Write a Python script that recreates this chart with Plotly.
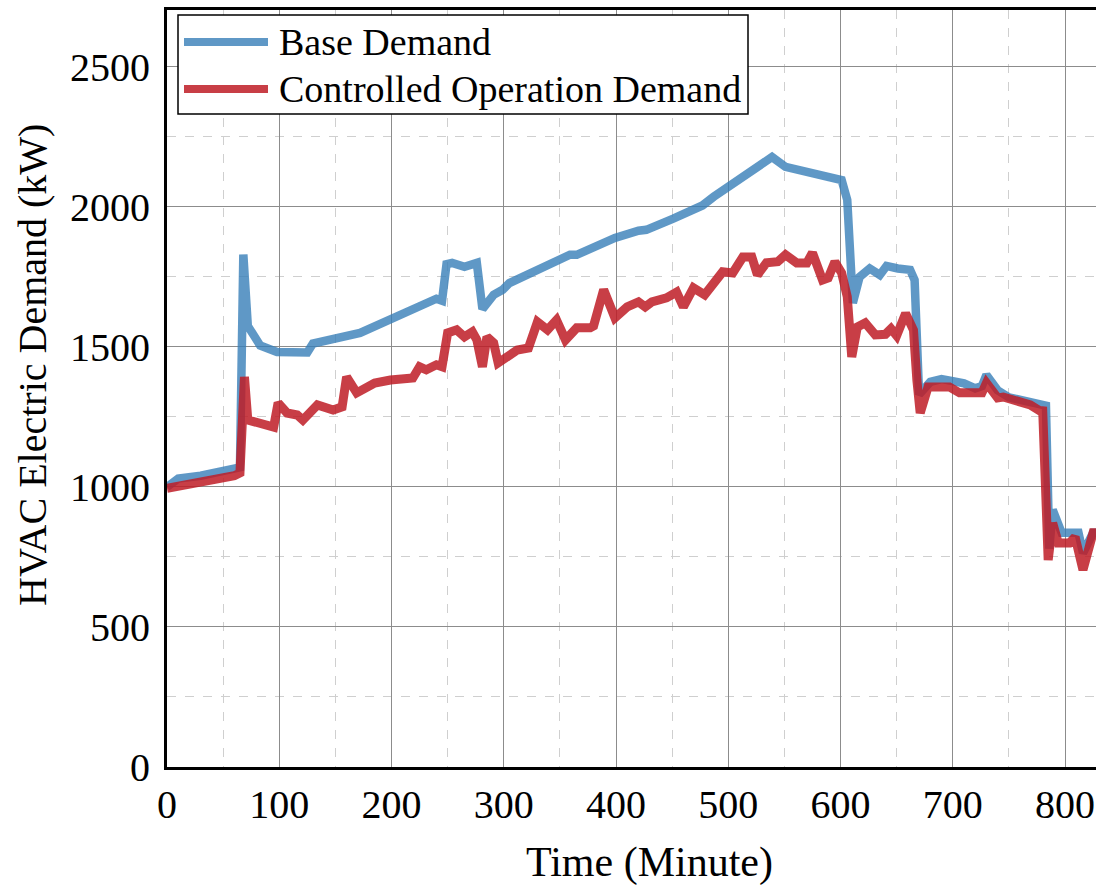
import plotly.graph_objects as go

# Time axis (minutes) and HVAC demand (kW) for the two operating modes
base_time = [0, 10, 30, 50, 65, 68, 72, 83, 98, 125, 130, 172, 187, 240, 245,
             249, 254, 265, 276, 281, 291, 299, 305, 359, 365, 399, 420, 427, 451, 477,
             487, 508, 539, 551, 573, 591, 601, 606, 611, 617, 626, 635, 641, 651, 662,
             666, 670, 680, 690, 700, 710, 720, 726, 730, 740, 750, 770, 780, 783, 786,
             789, 797, 812, 816, 825, 830]
base_demand = [1000, 1030, 1040, 1055, 1070, 1830, 1575, 1505, 1482, 1480, 1512, 1550, 1578, 1672, 1665,
               1795, 1800, 1786, 1800, 1635, 1686, 1704, 1728, 1829, 1829, 1889, 1915, 1918, 1958, 2005,
               2036, 2096, 2178, 2143, 2125, 2104, 2096, 2025, 1657, 1750, 1780, 1757, 1789, 1780, 1775,
               1739, 1330, 1375, 1385, 1378, 1370, 1352, 1360, 1400, 1345, 1320, 1300, 1290, 1290, 780,
               918, 836, 836, 764, 836, 836]

ctrl_time = [0, 30, 60, 65, 69, 72, 80, 95, 99, 107, 116, 121, 134, 148, 156,
             160, 169, 185, 199, 214, 219, 225, 231, 240, 245, 250, 258, 265, 272, 276,
             281, 285, 291, 295, 303, 312, 322, 330, 339, 347, 355, 365, 377, 380, 389,
             399, 410, 420, 426, 432, 445, 454, 460, 469, 479, 487, 495, 504, 513, 521,
             526, 534, 544, 551, 561, 570, 575, 584, 589, 595, 601, 606, 610, 615, 622,
             631, 640, 645, 650, 658, 665, 668, 671, 678, 697, 706, 718, 726, 730, 740,
             745, 769, 779, 780, 785, 789, 794, 804, 809, 816, 825, 830]
ctrl_demand = [995, 1015, 1040, 1050, 1393, 1239, 1232, 1214, 1300, 1264, 1257, 1239, 1293, 1275, 1286,
               1393, 1336, 1371, 1382, 1393, 1389, 1429, 1418, 1436, 1429, 1550, 1561, 1536, 1554, 1525,
               1429, 1536, 1514, 1443, 1464, 1489, 1496, 1589, 1561, 1596, 1525, 1568, 1568, 1575, 1704,
               1604, 1643, 1661, 1643, 1661, 1675, 1696, 1643, 1711, 1686, 1729, 1768, 1764, 1821, 1821,
               1757, 1800, 1804, 1829, 1800, 1800, 1836, 1739, 1746, 1804, 1764, 1679, 1464, 1571, 1586,
               1543, 1545, 1565, 1540, 1620, 1560, 1382, 1264, 1357, 1357, 1336, 1339, 1336, 1371, 1318,
               1321, 1293, 1268, 1286, 739, 871, 800, 800, 821, 704, 836, 836]

assert len(base_time) == len(base_demand)
assert len(ctrl_time) == len(ctrl_demand)

series_names = ["Base Demand", "Controlled Operation Demand"]
x_ticks = [0, 100, 200, 300, 400, 500, 600, 700, 800]
y_ticks = [0, 500, 1000, 1500, 2000, 2500]

BLUE = "rgba(55,126,184,0.8)"
RED = "rgba(190,28,38,0.85)"
FONT = "Liberation Serif, Times New Roman, serif"

fig = go.Figure()
fig.add_trace(go.Scatter(x=base_time, y=base_demand, mode="lines", name=series_names[0],
                         line=dict(color=BLUE, width=8.5), showlegend=False))
fig.add_trace(go.Scatter(x=ctrl_time, y=ctrl_demand, mode="lines", name=series_names[1],
                         line=dict(color=RED, width=9), showlegend=False))

axis_common = dict(
    showline=True, linecolor="black", linewidth=3,
    showgrid=True, gridcolor="#8c8c8c", gridwidth=1.2,
    zeroline=False, ticks="",
    tickfont=dict(family=FONT, size=40, color="black"),
)

fig.update_xaxes(range=[0, 827.6], tickvals=x_ticks, mirror=True,
                 minor=dict(dtick=50, tick0=0, showgrid=True, gridcolor="#cfcfcf",
                            griddash="dash", gridwidth=1),
                 ticklabelstandoff=0, **axis_common)
fig.update_yaxes(range=[0, 2703], tickvals=y_ticks,
                 minor=dict(dtick=250, tick0=0, showgrid=True, gridcolor="#cfcfcf",
                            griddash="dash", gridwidth=1),
                 ticklabelstandoff=6, **axis_common)

# Legend drawn as a boxed key in the upper-left corner
shapes = [
    dict(type="rect", xref="paper", yref="paper", layer="above",
         x0=(178 - 167) / 929, x1=(748 - 167) / 929,
         y0=(767 - 114) / 757, y1=(767 - 15) / 757,
         fillcolor="white", line=dict(color="black", width=1.5)),
]
annotations = []
for i, (name, color) in enumerate(zip(series_names, [BLUE, RED])):
    ypx = 42 + i * 47
    yp = (767 - ypx) / 757
    shapes.append(dict(type="line", xref="paper", yref="paper", layer="above",
                       x0=(184 - 167) / 929, x1=(268 - 167) / 929, y0=yp, y1=yp,
                       line=dict(color=color, width=8)))
    annotations.append(dict(xref="paper", yref="paper", x=(277 - 167) / 929, y=yp,
                            xanchor="left", yanchor="middle", showarrow=False,
                            text=name, font=dict(family=FONT, size=38, color="black")))

# Axis titles
annotations.append(dict(xref="paper", yref="paper", x=(649 - 167) / 929, y=(767 - 862) / 757,
                        xanchor="center", yanchor="middle", showarrow=False,
                        text="Time (Minute)", font=dict(family=FONT, size=42, color="black")))
annotations.append(dict(xref="paper", yref="paper", x=(32 - 167) / 929, y=(767 - 365) / 757,
                        xanchor="center", yanchor="middle", showarrow=False, textangle=-90,
                        text="HVAC Electric Demand (kW)", font=dict(family=FONT, size=40, color="black")))

fig.update_layout(
    width=1096, height=887,
    margin=dict(l=167, r=0, t=10, b=120),
    paper_bgcolor="white", plot_bgcolor="white",
    shapes=shapes, annotations=annotations,
    showlegend=False,
)

fig.write_html("out.html")
